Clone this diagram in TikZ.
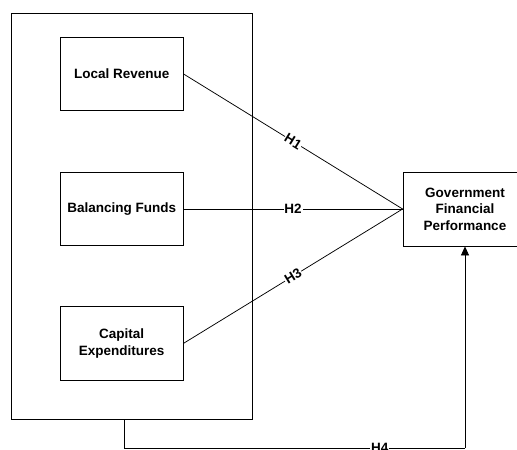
\documentclass[tikz,border=0pt]{standalone}
\usepackage{fontspec}
\setmainfont{Liberation Sans}
\usetikzlibrary{arrows.meta}
\begin{document}
\begin{tikzpicture}[x=1pt,y=-1pt,
  every node/.style={font=\bfseries\fontsize{13.5}{16.5}\selectfont},
  box/.style={draw, line width=0.8pt, rectangle, align=center, inner sep=0pt},
  smallbox/.style={box, minimum width=123pt, minimum height=73.5pt},
  conn/.style={line width=0.75pt},
  lbl/.style={fill=white, inner sep=0.8pt},
  arr/.style={conn, -{Triangle[width=8pt,length=9pt]}}]
\clip (0,0) rectangle (517,450);
\fill[white] (0,0) rectangle (517,450);
\node[box, minimum width=241pt, minimum height=406pt] (outer) at (131.5,216) {};
\node[smallbox] (lr) at (121.7,74) {Local Revenue};
\node[smallbox] (bf) at (121.7,209) {Balancing Funds};
\node[smallbox] (ce) at (121.7,343.3) {Capital\\Expenditures};
\node[box, minimum width=124pt, minimum height=74pt] (gfp) at (465,209) {Government\\Financial\\Performance};
\draw[conn] (lr.east) -- node[lbl, sloped] {H1} (gfp.west);
\draw[conn] (bf.east) -- node[lbl, pos=0.5] {H2} (gfp.west);
\draw[conn] (ce.east) -- node[lbl, sloped] {H3} (gfp.west);
\coordinate (h4s) at (124,419);
\coordinate (h4c) at (124,448);
\draw[conn] (h4s) -- (h4c) -- node[lbl, pos=0.75] {H4} (h4c -| gfp.south);
\draw[arr] (h4c -| gfp.south) -- (gfp.south);
\end{tikzpicture}
\end{document}
